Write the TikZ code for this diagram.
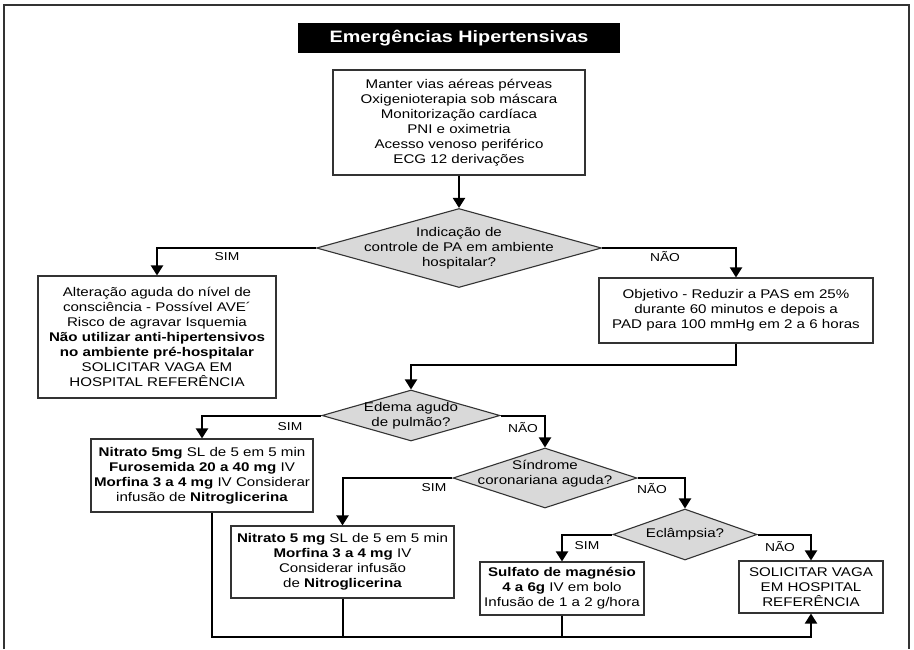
\documentclass[tikz,border=0pt]{standalone}
\usepackage{fontspec}
\setmainfont{Liberation Sans}[FakeStretch=1.2]
\usetikzlibrary{shapes.geometric,arrows.meta}
\newcommand\mainfs{\fontsize{12.6pt}{15pt}\selectfont}
\newcommand\labfs{\fontsize{11.5pt}{13pt}\selectfont}
\begin{document}
\begin{tikzpicture}[x=1pt,y=-1pt,
  box/.style={draw=black!80,line width=1.1pt,fill=white,align=center,inner sep=0pt,font=\mainfs},
  dia/.style={diamond,draw=black!80,line width=1.1pt,fill=black!15,inner sep=0pt},
  diatext/.style={align=center,inner sep=0pt,font=\mainfs},
  conn/.style={line width=2pt,-{Triangle[length=10pt,width=12pt]}},
  plain/.style={line width=2pt},
  lab/.style={font=\labfs,inner sep=0pt}]
\useasboundingbox (0,0) rectangle (914,649);
\fill[white] (0,0) rectangle (914,649);
% frame
\draw[line width=2pt,black!80] (4,649) -- (4,5) -- (909,5) -- (909,649);
% title
\node[fill=black,text=white,minimum width=322pt,minimum height=30pt,inner sep=0pt,
  font=\fontsize{16.5pt}{18pt}\selectfont\bfseries] (title) at (459,38) {Emergências Hipertensivas};
% top box
\node[box,minimum width=252pt,minimum height=105pt] (top) at (459,122.5)
  {Manter vias aéreas pérveas\\Oxigenioterapia sob máscara\\Monitorização cardíaca\\PNI e oximetria\\Acesso venoso periférico\\ECG 12 derivações};
% diamond 1
\node[dia,minimum width=285pt,minimum height=79pt] (d1) at (459,248) {};
\node[diatext] (d1t) at (d1) {Indicação de\\controle de PA em ambiente\\hospitalar?};
% left box
\node[box,minimum width=238pt,minimum height=122pt] (lb) at (157,337)
  {Alteração aguda do nível de\\consciência - Possível AVE´\\Risco de agravar Isquemia\\\textbf{Não utilizar anti-hipertensivos}\\\textbf{no ambiente pré-hospitalar}\\SOLICITAR VAGA EM\\HOSPITAL REFERÊNCIA};
% right box
\node[box,minimum width=274pt,minimum height=65pt] (rb) at (736,310.5)
  {Objetivo - Reduzir a PAS em 25\%\\durante 60 minutos e depois a\\PAD para 100 mmHg em 2 a 6 horas};
% diamond 2
\node[dia,minimum width=178pt,minimum height=51pt] (d2) at (411,415.5) {};
\node[diatext] (d2t) at (d2) {Edema agudo\\de pulmão?};
% nitrato 1
\node[box,minimum width=222pt,minimum height=73pt] (n1) at (202,475.5)
  {\textbf{Nitrato 5mg} SL de 5 em 5 min\\\textbf{Furosemida 20 a 40 mg} IV\\\textbf{Morfina 3 a 4 mg} IV Considerar\\infusão de \textbf{Nitroglicerina}};
% diamond 3
\node[dia,minimum width=184pt,minimum height=60pt] (d3) at (545,478) {};
\node[diatext] (d3t) at (545,474) {Síndrome\\coronariana aguda?};
% nitrato 2
\node[box,minimum width=223pt,minimum height=72pt] (n2) at (342.5,562)
  {\textbf{Nitrato 5 mg} SL de 5 em 5 min\\\textbf{Morfina 3 a 4 mg} IV\\Considerar infusão\\de \textbf{Nitroglicerina}};
% diamond 4
\node[dia,minimum width=144pt,minimum height=51pt] (d4) at (685,534.5) {};
\node[diatext] (d4t) at (d4) {Eclâmpsia?};
% sulfato
\node[box,minimum width=164pt,minimum height=53pt] (sf) at (562,588.5)
  {\textbf{Sulfato de magnésio}\\\textbf{4 a 6g} IV em bolo\\Infusão de 1 a 2 g/hora};
% solicitar
\node[box,minimum width=144pt,minimum height=52pt] (so) at (811,587)
  {SOLICITAR VAGA\\EM HOSPITAL\\REFERÊNCIA};
% connectors
\draw[conn] (top.south) -- (d1.north);
\draw[conn] (d1.west) -| (lb.north);
\draw[conn] (d1.east) -| (rb.north);
\coordinate (j1) at (411,365);
\draw[conn] (rb.south) |- (j1) -- (d2.north);
\draw[conn] (d2.west) -| (n1.north);
\draw[conn] (d2.east) -| (d3.north);
\draw[conn] (d3.west) -| (n2.north);
\draw[conn] (d3.east) -| (d4.north);
\draw[conn] (d4.west) -| (sf.north);
\draw[conn] (d4.east) -| (so.north);
\coordinate (b1) at (212,637);
\draw[conn] (n1.south -| b1) -- (b1) -| (so.south);
\draw[plain] (n2.south) -- (n2.south |- b1);
\draw[plain] (sf.south) -- (sf.south |- b1);
% labels
\node[lab] (l1) at (227,257) {SIM};
\node[lab] (l2) at (665,257) {NÃO};
\node[lab] (l3) at (290,427) {SIM};
\node[lab] (l4) at (523,427) {NÃO};
\node[lab] (l5) at (434,488) {SIM};
\node[lab] (l6) at (652,488) {NÃO};
\node[lab] (l7) at (587,546) {SIM};
\node[lab] (l8) at (780,546) {NÃO};
\end{tikzpicture}
\end{document}
